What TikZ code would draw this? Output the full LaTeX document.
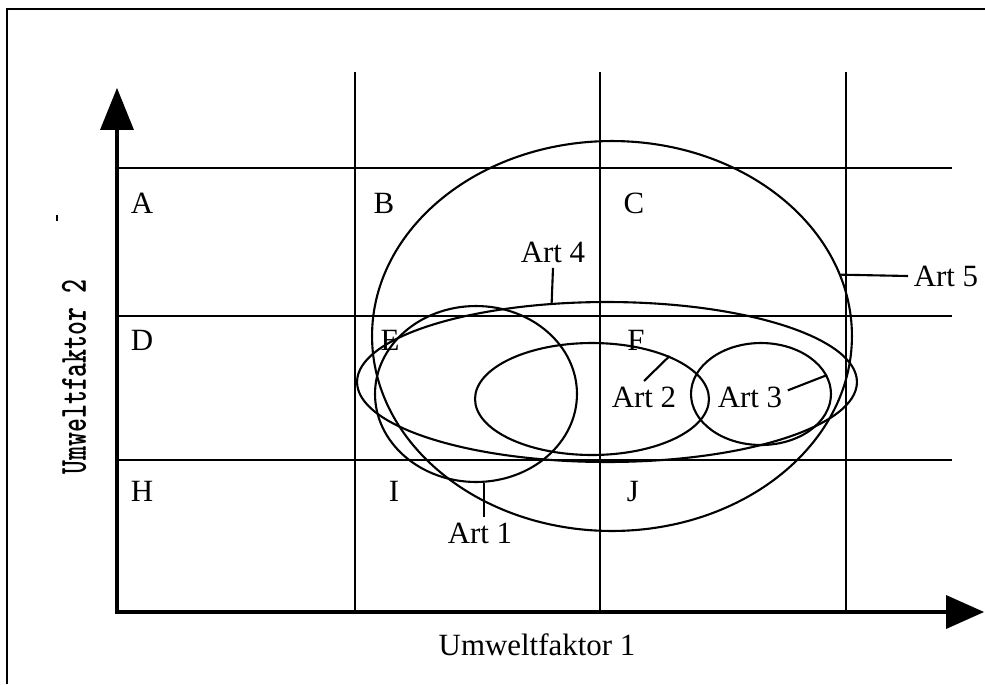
\documentclass[tikz,border=0pt]{standalone}
\usepackage{fontspec}
\setmainfont{Liberation Serif}
\usetikzlibrary{arrows.meta,shapes.geometric}

\begin{document}
\begin{tikzpicture}[
    x=0.02cm, y=-0.02cm,
    frameline/.style={line width=1.1pt},
    gridline/.style={line width=1.1pt},
    axisline/.style={line width=2.8pt, line join=miter,
        {Triangle[length=0.84cm, width=0.68cm, line width=0pt]}-{Triangle[length=0.76cm, width=0.68cm, line width=0pt]}},
    field/.style={anchor=base, inner sep=0pt, font=\fontsize{17.6}{20}\selectfont},
    artshape/.style={draw, ellipse, line width=1.2pt, inner sep=0pt},
    artlabel/.style={inner sep=3pt, font=\fontsize{17.6}{20}\selectfont},
    leader/.style={line width=1.2pt}
]
\useasboundingbox (0,0) rectangle (985,684);

% frame
\draw[frameline] (7,684) -- (7,9) -- (985,9);

% grid
\foreach \gx in {355,600,846}
    \draw[gridline] (\gx,72) -- (\gx,612);
\foreach \gy in {168,316,460}
    \draw[gridline] (117,\gy) -- (952,\gy);

% axes
\coordinate (origin) at (117,612);
\coordinate (ytip) at (117,88);
\coordinate (xtip) at (984,612);
\draw[axisline] (ytip) -- (origin) -- (xtip);

\node[field] (xname) at (537,655) {Umweltfaktor 1};
\node[rotate=90, inner sep=0pt, font=\ttfamily\bfseries\fontsize{15.1}{17}\selectfont] (yname) at (74,377)
    {\scalebox{1}[1.45]{Umweltfaktor 2}};
\fill (56,215) rectangle (58,221);

% fields
\node[field] (fa) at (142,213) {A};
\node[field] (fb) at (384,213) {B};
\node[field] (fc) at (634,213) {C};
\node[field] (fd) at (142,350) {D};
\node[field] (fe) at (390,350) {E};
\node[field] (ff) at (636,350) {F};
\node[field] (fh) at (142,501) {H};
\node[field] (fi) at (394,501) {I};
\node[field] (fj) at (633,501) {J};

% species
\node[artshape, minimum width=9.6cm, minimum height=7.8cm] (art5) at (612,336) {};
\node[artshape, minimum width=10cm, minimum height=3.2cm] (art4) at (607,382) {};
\node[artshape, minimum width=4.04cm, minimum height=3.52cm] (art1) at (476,394) {};
\node[artshape, minimum width=4.68cm, minimum height=2.24cm] (art2) at (592,399) {};
\node[artshape, minimum width=2.8cm, minimum height=2.04cm] (art3) at (761,394) {};

\node[artlabel] (lab1) at (480,533) {Art 1};
\node[artlabel] (lab2) at (644,397) {Art 2};
\node[artlabel] (lab3) at (750,397) {Art 3};
\node[artlabel] (lab4) at (553,252) {Art 4};
\node[artlabel] (lab5) at (946,276) {Art 5};

\draw[leader] (art1.275) -- (art1.275 |- lab1.north);
\draw[leader] (lab2.north) -- (art2.29);
\draw[leader] (lab3.10) -- (art3.16);
\draw[leader] (lab4.south) -- (art4.125);
\draw[leader] (art5.15) -- (lab5.west);
\end{tikzpicture}
\end{document}
